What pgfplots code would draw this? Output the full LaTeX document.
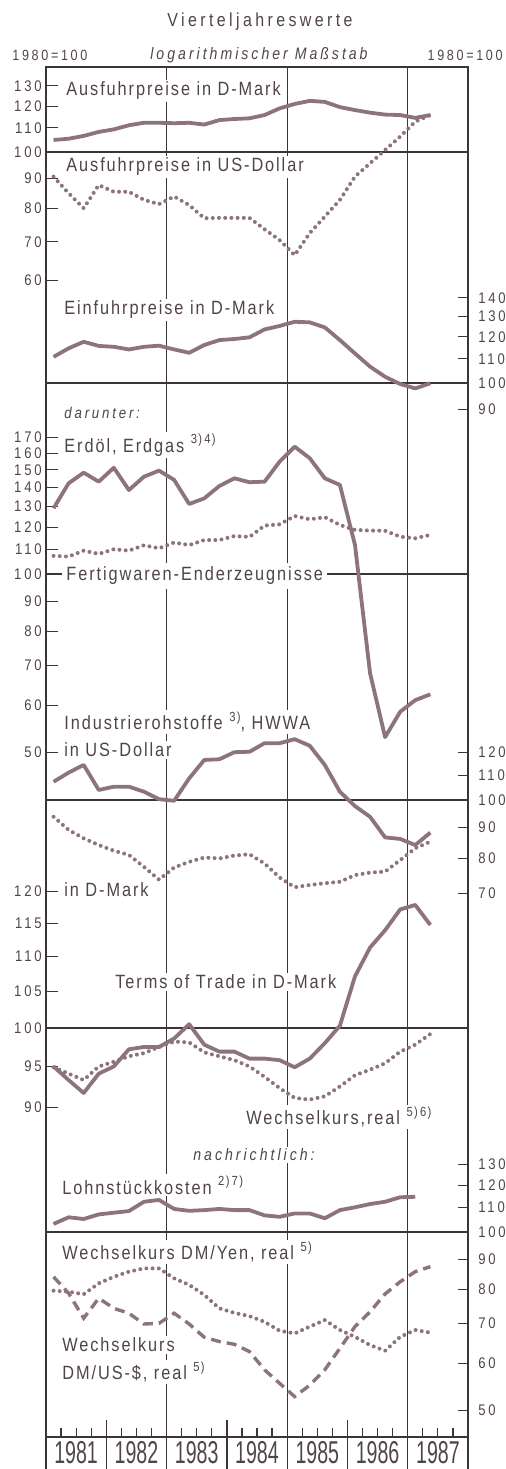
\documentclass[border=0pt]{standalone}
\usepackage{fontspec}
\setmainfont{Liberation Sans}[FakeStretch=0.85, LetterSpace=10]
\newfontfamily\wide{Liberation Sans}[FakeStretch=0.85, LetterSpace=18]
\newfontfamily\yearf{Liberation Sans}[FakeStretch=0.62]
\usepackage{pgfplots}
\usepackage{pgfplotstable}
\pgfplotsset{compat=1.18}
\definecolor{txt}{RGB}{80,68,72}
\definecolor{ln}{RGB}{140,116,122}
\definecolor{fr}{RGB}{60,52,56}
\newcommand\lbl{\fontsize{9.6}{11}\selectfont}
\newcommand\sml{\fontsize{6.6}{7}\selectfont}
\newcommand\tlf{\wide\fontsize{7.7}{8}\selectfont}

\pgfplotstableread{
q AusDM AusUSD EinDM Oil Fert IndUSD IndDM ToT WK Lohn Yen USD
0.5 104.9 90.7 110.9 129.1 107.3 107.2 93.8 95.0 94.9 103.2 79.6 84.0
1.5 105.4 84.9 114.7 142.3 107.0 111.0 89.2 93.3 94.1 105.9 79.3 78.8
2.5 106.6 80.0 117.7 148.3 109.5 114.3 86.4 91.7 93.3 105.2 78.5 71.5
3.5 108.3 87.7 115.8 143.2 108.1 103.9 84.2 94.1 95.0 107.1 81.9 77.3
4.5 109.4 85.4 115.4 151.2 110.1 105.2 82.4 95.0 95.6 107.8 84.0 74.3
5.5 111.2 85.4 114.2 138.6 109.5 105.2 81.1 97.2 96.3 108.5 85.7 72.9
6.5 112.3 82.7 115.4 146.0 111.8 103.2 77.5 97.5 96.7 112.5 86.8 69.9
7.5 112.3 81.3 115.9 149.5 110.5 100.3 73.8 97.5 97.5 113.3 86.8 70.1
8.5 112.1 83.8 114.2 144.2 113.0 99.7 77.3 98.6 98.2 109.4 83.5 72.9
9.5 112.3 81.0 112.7 131.3 111.9 108.6 79.0 100.5 98.1 108.6 81.4 69.9
10.5 111.5 76.9 116.2 134.2 114.1 116.5 80.3 97.8 96.8 108.9 78.3 66.4
11.5 113.5 77.0 118.5 140.8 114.1 116.8 80.0 96.9 96.3 109.4 74.3 65.3
12.5 114.0 77.0 119.0 145.1 115.9 120.0 80.9 96.9 95.8 108.9 73.0 64.6
13.5 114.3 77.0 119.8 142.9 115.5 120.2 81.3 96.0 95.0 108.9 72.1 62.8
14.5 115.8 73.6 123.6 143.2 120.7 124.2 78.5 96.0 93.7 106.7 70.5 58.5
15.5 118.9 70.5 125.3 154.8 121.3 124.2 74.4 95.8 92.3 106.1 68.1 55.5
16.5 121.0 66.4 127.4 164.1 125.3 126.1 71.7 94.9 91.1 107.5 67.4 52.7
17.5 122.5 72.5 127.1 156.9 123.7 123.0 72.3 96.0 90.9 107.5 69.2 55.1
18.5 122.0 77.4 124.6 145.1 124.7 114.3 72.8 98.0 91.3 105.5 71.0 58.5
19.5 119.5 82.7 118.5 141.4 121.0 103.2 73.2 100.3 92.5 108.9 68.3 63.6
20.5 118.1 90.7 112.4 112.0 118.7 97.7 75.1 107.1 93.9 110.1 66.5 69.2
21.5 116.9 95.6 106.7 68.0 118.4 93.8 75.8 111.3 94.6 111.5 64.4 73.3
22.5 116.0 100.8 102.5 53.0 118.3 86.7 76.1 113.9 95.4 112.5 63.0 78.6
23.5 115.8 106.3 99.6 58.5 115.6 86.2 79.5 117.1 96.9 114.5 66.5 82.4
24.5 114.5 112.8 97.9 61.2 114.9 84.2 83.2 117.8 97.8 114.7 68.3 85.7
25.5 115.8 115.8 99.9 62.6 116.4 88.3 85.3 114.7 99.2 nan 67.6 87.4
}\data

\tikzset{
  sol/.style={ln, line width=1.9pt, line join=round},
  dot/.style={ln, line width=2pt, line cap=round, dash pattern=on 0pt off 3.1pt},
  dsh/.style={ln, line width=1.7pt, dash pattern=on 5pt off 3pt},
  hund/.style={fr, line width=0.6pt}
}

\begin{document}
\begin{tikzpicture}
\useasboundingbox (0,0) rectangle (253pt,-734.5pt);

% base frame axis
\begin{axis}[scale only axis, width=211pt, height=685pt, at={(23pt,-718.5pt)}, anchor=south west,
  xmin=0, xmax=28, ymin=0, ymax=1, ytick=\empty,
  xtick={1,2,3,5,6,7,9,10,11,13,14,15,17,18,19,21,22,23,25,26,27},
  xticklabels={}, xtick pos=bottom, tick align=inside, major tick length=4.5pt,
  tick style={fr, line width=0.6pt}, axis line style={fr, line width=0.7pt}]
\draw[fr, line width=0.5pt] (axis cs:8,0) -- (axis cs:8,1);
\draw[fr, line width=0.5pt] (axis cs:16,0) -- (axis cs:16,1);
\draw[fr, line width=0.5pt] (axis cs:24,0) -- (axis cs:24,1);
\end{axis}

% Panel 1: Ausfuhrpreise
\begin{axis}[scale only axis, width=211pt, xmin=0, xmax=28, ymode=log, axis x line=none, clip=false,
  tick align=inside, major tick length=6pt, yminorticks=false, tick style={fr, line width=0.5pt},
  axis y line*=left, y axis line style={draw=none},
  yticklabel style={font=\tlf, text=txt, inner sep=0pt, xshift=-2pt},
  at={(23pt,-140.35pt)}, anchor=south west, height=97.4pt, ymin=60, ymax=130,
  ytick={60,70,80,90,100,110,120,130}, yticklabels={60,70,80,90,100,110,120,130}]
\draw[hund] (axis cs:0,100) -- (axis cs:28,100);
\addplot[sol] table[x=q,y=AusDM]{\data};
\addplot[dot] table[x=q,y=AusUSD]{\data};
\end{axis}

% Panel 2: Einfuhrpreise
\begin{axis}[scale only axis, width=211pt, xmin=0, xmax=28, ymode=log, axis x line=none, clip=false,
  tick align=inside, major tick length=5pt, yminorticks=false, tick style={fr, line width=0.5pt},
  axis y line*=right, y axis line style={draw=none},
  yticklabel style={font=\tlf, text=txt, inner sep=0pt, xshift=5pt},
  at={(23pt,-204.85pt)}, anchor=south west, height=55.9pt, ymin=90, ymax=140,
  ytick={90,100,110,120,130,140}, yticklabels={90,100,110,120,130,140}]
\draw[hund] (axis cs:0,100) -- (axis cs:28,100);
\addplot[sol] table[x=q,y=EinDM]{\data};
\end{axis}

% Panel 3: Erdoel / Fertigwaren
\begin{axis}[scale only axis, width=211pt, xmin=0, xmax=28, ymode=log, axis x line=none, clip=false,
  tick align=inside, major tick length=6pt, yminorticks=false, tick style={fr, line width=0.5pt},
  axis y line*=left, y axis line style={draw=none},
  yticklabel style={font=\tlf, text=txt, inner sep=0pt, xshift=-2pt},
  at={(23pt,-376.05pt)}, anchor=south west, height=157.25pt, ymin=50, ymax=170,
  ytick={50,60,70,80,90,100,110,120,130,140,150,160,170},
  yticklabels={50,60,70,80,90,100,110,120,130,140,150,160,170}]
\draw[hund] (axis cs:0,100) -- (axis cs:28,100);
\addplot[sol] table[x=q,y=Oil]{\data};
\addplot[dot] table[x=q,y=Fert]{\data};
\end{axis}

% Panel 4: Industrierohstoffe
\begin{axis}[scale only axis, width=211pt, xmin=0, xmax=28, ymode=log, axis x line=none, clip=false,
  tick align=inside, major tick length=5pt, yminorticks=false, tick style={fr, line width=0.5pt},
  axis y line*=right, y axis line style={draw=none},
  yticklabel style={font=\tlf, text=txt, inner sep=0pt, xshift=5pt},
  at={(23pt,-446.75pt)}, anchor=south west, height=70.65pt, ymin=70, ymax=120,
  ytick={70,80,90,100,110,120}, yticklabels={70,80,90,100,110,120}]
\draw[hund] (axis cs:0,100) -- (axis cs:28,100);
\addplot[sol] table[x=q,y=IndUSD]{\data};
\addplot[dot] table[x=q,y=IndDM]{\data};
\end{axis}

% Panel 5: Terms of Trade
\begin{axis}[scale only axis, width=211pt, xmin=0, xmax=28, ymode=log, axis x line=none, clip=false,
  tick align=inside, major tick length=6pt, yminorticks=false, tick style={fr, line width=0.5pt},
  axis y line*=left, y axis line style={draw=none},
  yticklabel style={font=\tlf, text=txt, inner sep=0pt, xshift=-2pt},
  at={(23pt,-553.55pt)}, anchor=south west, height=108pt, ymin=90, ymax=120,
  ytick={90,95,100,105,110,115,120}, yticklabels={90,95,100,105,110,115,120}]
\draw[hund] (axis cs:0,100) -- (axis cs:28,100);
\addplot[sol] table[x=q,y=ToT]{\data};
\addplot[dot] table[x=q,y=WK]{\data};
\end{axis}

% Panel 6: Lohnstueckkosten, Wechselkurse
\begin{axis}[scale only axis, width=211pt, xmin=0, xmax=28, ymode=log, axis x line=none, clip=false,
  tick align=inside, major tick length=5pt, yminorticks=false, tick style={fr, line width=0.5pt},
  axis y line*=right, y axis line style={draw=none},
  yticklabel style={font=\tlf, text=txt, inner sep=0pt, xshift=5pt},
  at={(23pt,-705.05pt)}, anchor=south west, height=122.75pt, ymin=50, ymax=130,
  ytick={50,60,70,80,90,100,110,120,130}, yticklabels={50,60,70,80,90,100,110,120,130}]
\draw[hund] (axis cs:0,100) -- (axis cs:28,100);
\addplot[sol] table[x=q,y=Lohn]{\data};
\addplot[dot] table[x=q,y=Yen]{\data};
\addplot[dsh] table[x=q,y=USD]{\data};
\end{axis}

\begin{scope}[x=0.5pt, y=-0.5pt, every node/.style={text=txt, inner sep=1pt}]
% bottom year strip
\draw[fr, line width=0.7pt] (46,1437) -- (46,1469);
\draw[fr, line width=0.7pt] (468,1437) -- (468,1469);
\foreach \xx in {106.3,166.6,226.9,287.1,347.4,407.7}
  \draw[fr, line width=0.6pt] (\xx,1420) -- (\xx,1469);
\foreach \xx/\yy in {76.1/1981,136.4/1982,196.7/1983,257/1984,317.3/1985,377.6/1986,437.9/1987}
  \node[text=txt, inner sep=0pt] at (\xx,1452.5) {\yearf\fontsize{15.8}{16}\selectfont \yy};

% header
\node at (260,22) {\wide\fontsize{9.4}{10}\selectfont Vierteljahreswerte};
\node[anchor=west] at (10,55) {\wide\fontsize{7.4}{8}\selectfont 1980=100};
\node[anchor=east] at (505,55) {\wide\fontsize{7.4}{8}\selectfont 1980=100};
\node at (259,55) {\wide\fontsize{8.3}{9}\selectfont\itshape logarithmischer Maßstab};

% series labels
\node[anchor=west, fill=white] at (64,91) {\lbl Ausfuhrpreise in D-Mark};
\node[anchor=west, fill=white] at (64,167) {\lbl Ausfuhrpreise in US-Dollar};
\node[anchor=west, fill=white] at (62,310) {\lbl Einfuhrpreise in D-Mark};
\node[anchor=west, fill=white] at (62,413) {\wide\fontsize{7.8}{8}\selectfont\itshape darunter:};
\node[anchor=west, fill=white] at (62,445) {\lbl Erdöl, Erdgas \raisebox{0.45em}{\sml 3)\,4)}};
\node[anchor=west, fill=white, inner sep=2pt] at (62,576) {\lbl Fertigwaren-Enderzeugnisse};
\node[anchor=west, fill=white] at (62,722) {\lbl Industrierohstoffe \raisebox{0.45em}{\sml 3)}, HWWA};
\node[anchor=west, fill=white] at (62,750) {\lbl in US-Dollar};
\node[anchor=west, fill=white] at (62,890) {\lbl in D-Mark};
\node[anchor=west, fill=white] at (113,982) {\lbl Terms of Trade in D-Mark};
\node[anchor=west, fill=white] at (244,1117) {\lbl Wechselkurs,real \raisebox{0.45em}{\sml 5)\,6)}};
\node[anchor=west, fill=white] at (191,1155) {\wide\fontsize{8.3}{9}\selectfont\itshape nachrichtlich:};
\node[anchor=west, fill=white] at (60,1185) {\lbl Lohnstückkosten \raisebox{0.45em}{\sml 2)\,7)}};
\node[anchor=west, fill=white] at (60,1252) {\lbl Wechselkurs DM/Yen, real \raisebox{0.45em}{\sml 5)}};
\node[anchor=west, fill=white] at (60,1345) {\lbl Wechselkurs};
\node[anchor=west, fill=white] at (60,1372) {\lbl DM/US-\$, real \raisebox{0.45em}{\sml 5)}};
\end{scope}
\end{tikzpicture}
\end{document}
